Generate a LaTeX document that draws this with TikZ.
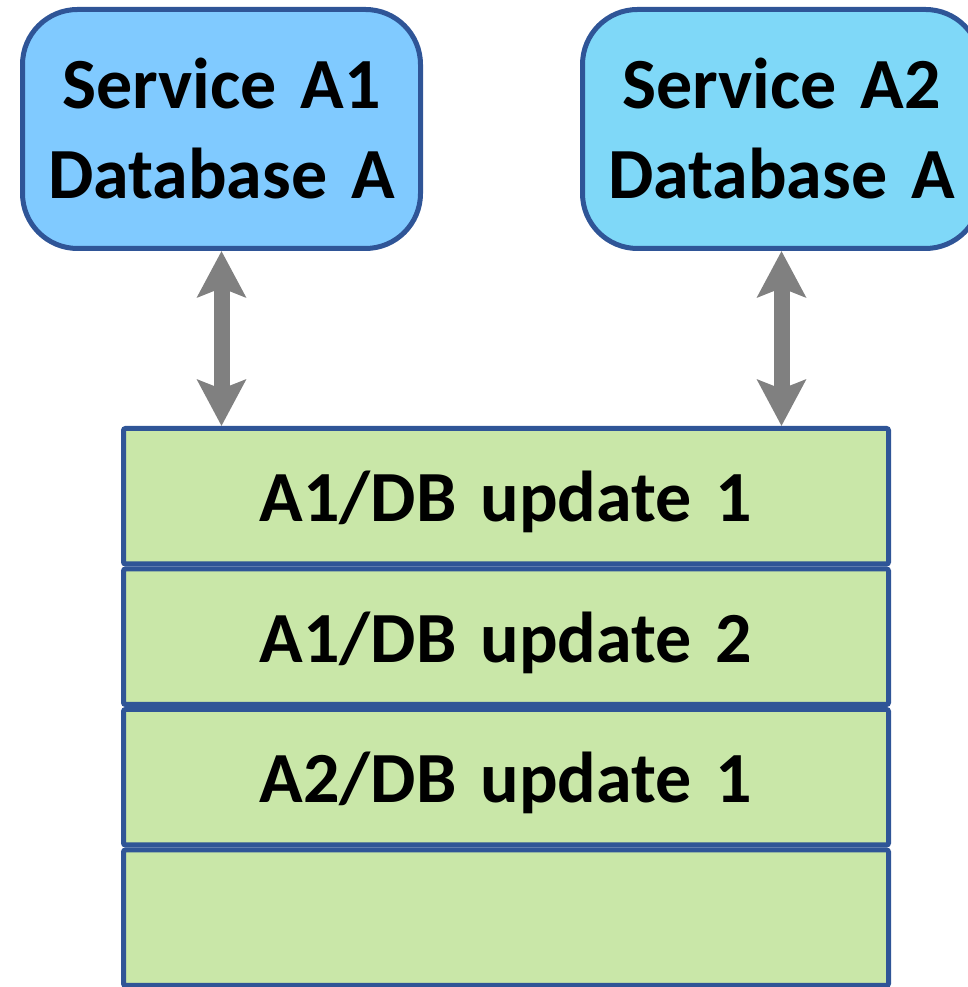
\documentclass[tikz,border=0pt]{standalone}
\usepackage{fontspec}
\setmainfont{Carlito}
\usepackage{xcolor}
\usepackage{tikz}
\usetikzlibrary{shapes,arrows.meta,positioning,calc}

\definecolor{edgeblue}{HTML}{2F5597}
\definecolor{svcone}{HTML}{80CAFF}
\definecolor{svctwo}{HTML}{7FD8F8}
\definecolor{logrow}{HTML}{C9E7A8}
\definecolor{arrowgray}{HTML}{808080}
\newcommand{\boxfont}{\bfseries\fontsize{72}{90}\selectfont}

\begin{document}
\begin{tikzpicture}[
    x=1pt, y=1pt,
    service/.style={rectangle, draw=edgeblue, line width=5pt, text width=380pt, align=center, minimum width=398pt, minimum height=239pt, font=\boxfont, rounded corners=55pt},
    logentry/.style={rectangle, draw=edgeblue, fill=logrow, line width=5pt, text width=740pt, align=center, text depth=0pt, minimum width=765pt, minimum height=135.5pt, font=\boxfont, rounded corners=2pt},
    arrow/.style={{Stealth[length=46pt, width=48pt, inset=9pt]}-{Stealth[length=46pt, width=48pt, inset=9pt]}, draw=arrowgray, line width=16pt}
]
\useasboundingbox (0,0) rectangle (967,987);

% Top row - services sharing one database
\node[service, fill=svcone] (a1) at (221.5,858) {Service A1\\Database A};
\node[service, fill=svctwo, right=157pt of a1] (a2) {Service A2\\Database A};

% Shared log of updates
\node[logentry] (r1) at (506,490.75) {A1/DB update 1};
\node[logentry, below=0pt of r1] (r2) {A1/DB update 2};
\node[logentry, below=0pt of r2] (r3) {A2/DB update 1};
\node[logentry, below=0pt of r3] (r4) {};

% Read/write links
\draw[arrow] (a1.south) -- (a1.south |- r1.north);
\draw[arrow] (a2.south) -- (a2.south |- r1.north);

\end{tikzpicture}
\end{document}
